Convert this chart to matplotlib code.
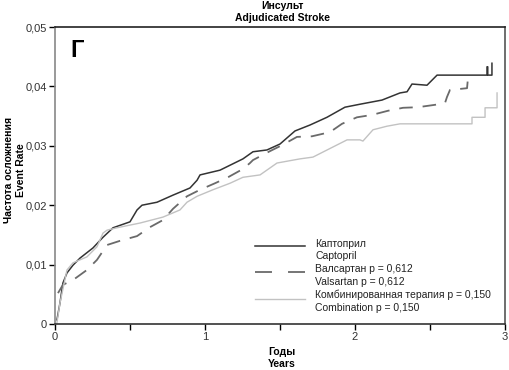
import matplotlib
matplotlib.use("Agg")
import matplotlib.pyplot as plt
from matplotlib.lines import Line2D

plt.rcParams['font.family'] = ['Liberation Sans', 'DejaVu Sans']

# Captopril
cap_x = [0.013, 0.033, 0.053, 0.08, 0.12, 0.167, 0.253, 0.32, 0.387, 0.5, 0.547, 0.58, 0.68, 0.787,
         0.9, 0.947, 0.967, 1.10, 1.253, 1.32, 1.413, 1.5, 1.6, 1.7, 1.813, 1.933, 2.033, 2.18, 2.3,
         2.347, 2.38, 2.48, 2.547, 2.88, 2.88, 2.885, 2.885, 2.913, 2.913]
cap_y = [0.0007, 0.0035, 0.0069, 0.0086, 0.0099, 0.0111, 0.0128, 0.0146, 0.0162, 0.0172, 0.0192, 0.0200,
         0.0205, 0.0217, 0.0229, 0.0242, 0.0251, 0.0259, 0.0278, 0.0290, 0.0293, 0.0303, 0.0325, 0.0335,
         0.0348, 0.0365, 0.0370, 0.0377, 0.0389, 0.0391, 0.0404, 0.0402, 0.0419, 0.0419, 0.0433, 0.0433,
         0.0419, 0.0419, 0.0439]

# Valsartan
val_x = [0.02, 0.053, 0.12, 0.213, 0.28, 0.347, 0.433, 0.547, 0.633, 0.72, 0.787, 0.88, 0.967, 1.067,
         1.153, 1.253, 1.3, 1.32, 1.433, 1.513, 1.613, 1.713, 1.833, 1.913, 2.013, 2.113, 2.22, 2.32,
         2.42, 2.533, 2.6, 2.613, 2.633, 2.747, 2.753, 2.793]
val_y = [0.0052, 0.0066, 0.0074, 0.0091, 0.0108, 0.0133, 0.0140, 0.0148, 0.0163, 0.0175, 0.0194, 0.0215,
         0.0226, 0.0237, 0.0247, 0.0261, 0.0271, 0.0276, 0.0291, 0.0301, 0.0315, 0.0316, 0.0323, 0.0337,
         0.0348, 0.0352, 0.0359, 0.0364, 0.0365, 0.0369, 0.0372, 0.0382, 0.0394, 0.0397, 0.0414, 0.0414]

# Combination
com_x = [0.013, 0.033, 0.08, 0.12, 0.213, 0.28, 0.32, 0.347, 0.413, 0.567, 0.72, 0.833, 0.88, 0.947,
         1.053, 1.167, 1.253, 1.367, 1.48, 1.633, 1.72, 1.853, 1.947, 2.033, 2.053, 2.12, 2.213, 2.3,
         2.78, 2.78, 2.867, 2.867, 2.947, 2.947]
com_y = [0.0002, 0.0035, 0.0091, 0.0103, 0.0113, 0.0130, 0.0153, 0.0158, 0.0162, 0.0170, 0.0180, 0.0192,
         0.0205, 0.0215, 0.0226, 0.0237, 0.0247, 0.0251, 0.0271, 0.0278, 0.0281, 0.0298, 0.0310, 0.0310,
         0.0308, 0.0327, 0.0333, 0.0337, 0.0337, 0.0348, 0.0348, 0.0364, 0.0364, 0.0389]

y_ticks = [0, 0.01, 0.02, 0.03, 0.04, 0.05]
y_labels = ["0", "0,01", "0,02", "0,03", "0,04", "0,05"]
x_ticks = [0, 1, 2, 3]
x_labels = ["0", "1", "2", "3"]

fig = plt.figure(figsize=(5.1, 3.7), dpi=100)
ax = fig.add_axes([0.1078, 0.1243, 0.8824, 0.8027])

cap_style = dict(color='#333333', lw=1.1)
val_style = dict(color='#6a6a6a', lw=1.3, dashes=(7.5, 5.5))
com_style = dict(color='#c2c2c2', lw=1.0)

ax.plot(cap_x, cap_y, **cap_style)
ax.plot(val_x, val_y, **val_style)
ax.plot(com_x, com_y, **com_style)

ax.set_xlim(0, 3)
ax.set_ylim(0, 0.05)
ax.set_yticks(y_ticks)
ax.set_yticklabels(y_labels)
ax.set_xticks(x_ticks)
ax.set_xticklabels(x_labels)
ax.set_xticks([0.5, 1.5, 2.5], minor=True)
ax.tick_params(axis='both', which='both', labelsize=8, length=4, width=1, direction='out', pad=2,
               labelcolor='#333333')
ax.tick_params(axis='x', which='minor', length=4)

ax.spines['left'].set_color('#888888')
ax.spines['bottom'].set_color('#333333')
ax.spines['top'].set_color('#222222')
ax.spines['right'].set_color('#555555')
for s in ax.spines.values():
    s.set_linewidth(1.2)

# Legend (manual)
ax.add_line(Line2D([0.444, 0.556], [0.263, 0.263], transform=ax.transAxes, **cap_style))
ax.add_line(Line2D([0.444, 0.556], [0.175, 0.175], transform=ax.transAxes,
                   color='#6a6a6a', lw=1.3, dashes=(9.4, 8.9)))
ax.add_line(Line2D([0.444, 0.556], [0.084, 0.084], transform=ax.transAxes, **com_style))
leg_texts = [(0.269, "Каптоприл"), (0.229, "Captopril"),
             (0.185, "Валсартан p = 0,612"), (0.141, "Valsartan p = 0,612"),
             (0.098, "Комбинированная терапия p = 0,150"), (0.054, "Combination p = 0,150")]
for yy, t in leg_texts:
    ax.text(0.578, yy, t, transform=ax.transAxes, fontsize=7.5, va='center', ha='left', color='#222222')

ax.text(0.035, 0.92, "Г", transform=ax.transAxes, fontsize=17, fontweight='bold', va='center', ha='left')

fig.text(0.553, 0.985, "Инсульт", fontsize=7.5, fontweight='bold', ha='center', va='center')
fig.text(0.553, 0.952, "Adjudicated Stroke", fontsize=7.5, fontweight='bold', ha='center', va='center')
fig.text(0.553, 0.048, "Годы", fontsize=7.5, fontweight='bold', ha='center', va='center')
fig.text(0.553, 0.016, "Years", fontsize=7.5, fontweight='bold', ha='center', va='center')
fig.text(0.018, 0.54, "Частота осложнения", fontsize=7.5, fontweight='bold', ha='center', va='center', rotation=90)
fig.text(0.042, 0.54, "Event Rate", fontsize=7.5, fontweight='bold', ha='center', va='center', rotation=90)

fig.savefig("out.png", dpi=100)
